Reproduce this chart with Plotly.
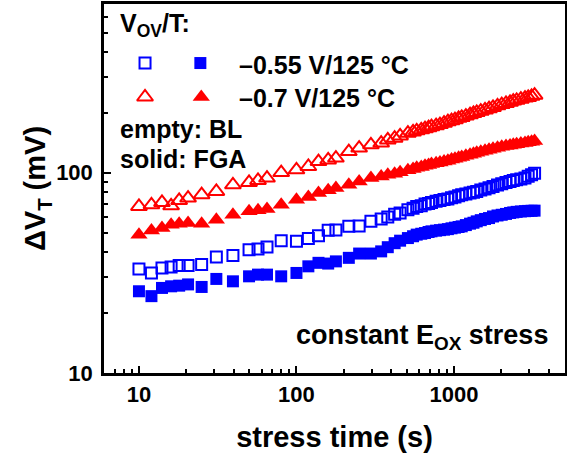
import plotly.graph_objects as go

# stress time (s)
t = [10, 12, 14, 16, 18, 20.5, 25, 31, 39.5, 50, 57, 65, 80, 100, 119, 138, 159, 178, 215, 250,
     297, 345, 380, 420, 455, 510, 550, 580, 620, 655, 690, 720, 770, 815, 865, 915, 965, 1015, 1070, 1120,
     1190, 1265, 1330, 1395, 1480, 1575, 1670, 1770, 1890, 2010, 2140, 2270, 2380, 2500, 2660, 2825, 2960, 3110, 3250]

# dVT (mV) -0.55 V/125 C, BL (empty squares)
bl_055 = [33.1, 31.6, 33.5, 33.8, 34.4, 34.4, 34.8, 38.0, 38.6, 41.3, 41.6, 42.6, 45.8, 45.5, 46.9, 48.5, 51.6, 51.8, 54.0, 54.2,
          57.2, 58.7, 60.2, 62.0, 63.0, 65.4, 66.5, 67.9, 68.5, 69.8, 70.3, 71.1, 72.0, 72.8, 73.5, 74.0, 75.0, 75.7, 76.8, 77.7,
          78.3, 79.2, 80.0, 80.7, 82.0, 83.0, 84.2, 85.5, 86.8, 88.1, 89.3, 90.5, 91.5, 92.3, 93.2, 94.1, 96.0, 97.7, 99.5]
# dVT (mV) -0.55 V/125 C, FGA (solid squares)
fga_055 = [25.6, 24.2, 26.6, 27.1, 27.3, 27.7, 26.9, 29.5, 28.7, 30.4, 31.0, 31.0, 30.4, 31.6, 34.1, 35.5, 35.2, 36.1, 37.6, 39.5,
           39.5, 40.5, 42.5, 44.5, 45.8, 47.2, 48.2, 49.1, 49.6, 50.0, 50.6, 51.0, 51.4, 51.7, 52.0, 52.3, 52.8, 53.2, 53.6, 54.0,
           54.8, 55.7, 56.3, 57.2, 58.0, 58.8, 59.4, 60.5, 61.2, 61.7, 62.3, 63.0, 63.4, 63.8, 64.1, 64.3, 64.5, 64.6, 64.7]
# dVT (mV) -0.7 V/125 C, BL (empty triangles)
bl_07 = [67.9, 69.2, 71.1, 68.4, 72.8, 74.8, 77.7, 80.7, 87.1, 89.5, 91.6, 94.1, 100.3, 103.5, 107.5, 113.8, 116, 118.4, 127.7, 132.8,
         138, 140.7, 146, 148.9, 152.8, 157.7, 160, 162, 164, 166, 168, 170, 172, 174, 177, 180, 182, 184, 187, 189,
         192, 195, 198, 200, 203, 206, 209, 212, 216, 219, 222, 225, 228, 230, 233, 236, 238, 241, 244]
# dVT (mV) -0.7 V/125 C, FGA (solid triangles)
fga_07 = [49.1, 51.5, 53.0, 55.0, 55.7, 56.1, 55.7, 58.3, 61.8, 64.2, 64.9, 65.9, 69.2, 73.3, 75.7, 79.2, 81.7, 84.0, 87.1, 90.5,
          94.1, 95.9, 97.7, 99.0, 100.5, 103, 104.5, 106, 107, 108.5, 109.5, 110.5, 111.5, 112.5, 114, 115, 116.5, 117.5, 119, 120,
          121.5, 123, 124.5, 126, 127.5, 129, 130.5, 132, 133.5, 135, 136, 137, 138, 139, 140, 141, 142, 143, 144]

BLUE = "#0000FF"
RED = "#FF0000"
FONT = "Liberation Sans, Arial, sans-serif"

fig = go.Figure()

def add(y, symbol, color, size, name):
    fig.add_trace(go.Scatter(
        x=t, y=y, mode="markers", name=name, showlegend=False,
        marker=dict(symbol=symbol, size=size, color=color,
                    line=dict(color=color, width=2 if "open" in symbol else 0))))

add(bl_07, "triangle-up-open", RED, 14, "BL -0.7")
add(fga_07, "triangle-up", RED, 15, "FGA -0.7")
add(bl_055, "square-open", BLUE, 11, "BL -0.55")
add(fga_055, "square", BLUE, 12, "FGA -0.55")

# legend symbols on an overlay axis spanning the plot area
leg_x = [0.089, 0.209, 0.089, 0.211]
leg_y = [0.840, 0.840, 0.748, 0.748]
leg_sym = ["square-open", "square", "triangle-up-open", "triangle-up"]
leg_col = [BLUE, BLUE, RED, RED]
leg_size = [11, 12, 14, 15]
for xx, yy, s, c, sz in zip(leg_x, leg_y, leg_sym, leg_col, leg_size):
    fig.add_trace(go.Scatter(
        x=[xx], y=[yy], xaxis="x2", yaxis="y2", mode="markers", showlegend=False,
        marker=dict(symbol=s, size=sz, color=c, line=dict(color=c, width=2 if "open" in s else 0))))

axis_common = dict(
    type="log", showgrid=False, zeroline=False, automargin=False,
    showline=True, linecolor="black", linewidth=2.5, mirror=True,
    ticks="inside", ticklen=7, tickwidth=1.5, tickcolor="black", dtick=1,
    minor=dict(ticks="inside", ticklen=4, tickwidth=1.5, tickcolor="black", dtick="D1", showgrid=False),
    tickfont=dict(family=FONT, size=22, color="black", weight="bold"),
)

fig.update_layout(
    width=567, height=460,
    margin=dict(l=104, r=2, t=4, b=87, autoexpand=False),
    paper_bgcolor="white", plot_bgcolor="white",
    xaxis=dict(axis_common, range=[0.778, 3.705],
               title=dict(text="stress time (s)", standoff=21,
                          font=dict(family=FONT, size=29, color="black", weight="bold"))),
    yaxis=dict(axis_common, range=[1, 2.843], ticklabelstandoff=4,
               title=dict(text="ΔV<sub>T</sub> (mV)", standoff=2,
                          font=dict(family=FONT, size=29, color="black", weight="bold"))),
    xaxis2=dict(overlaying="x", range=[0, 1], visible=False, fixedrange=True),
    yaxis2=dict(overlaying="y", range=[0, 1], visible=False, fixedrange=True),
)

def note(text, x, y, xanchor="left", size=25):
    fig.add_annotation(text=text, x=x, y=y, xref="paper", yref="paper",
                       xanchor=xanchor, yanchor="middle", showarrow=False,
                       font=dict(family=FONT, size=size, color="black", weight="bold"))

note("V<sub>OV</sub>/T:", 0.030, 0.944)
note("–0.55 V/125 °C", 0.2885, 0.836)
note("–0.7 V/125 °C", 0.2885, 0.744)
note("empty: BL", 0.030, 0.6626)
note("solid: FGA", 0.030, 0.5786)
note("constant E<sub>OX</sub> stress", 0.968, 0.0976, xanchor="right", size=27)

# remove the default page margin so the figure sits at the window origin
fig.write_html("out.html", config={"displayModeBar": False},
               post_script="document.body.style.margin='0';")
